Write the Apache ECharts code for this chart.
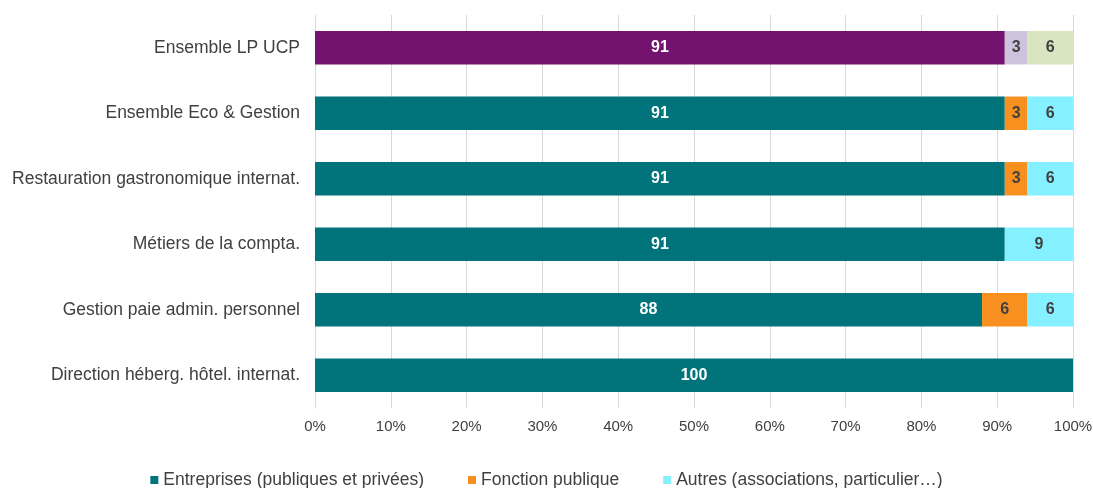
<!DOCTYPE html>
<html>
<head>
<meta charset="utf-8">
<script src="https://cdn.jsdelivr.net/npm/echarts@6/dist/echarts.min.js"></script>
<style>
  html, body { margin: 0; padding: 0; background: #fff; }
  #chart { width: 1093px; height: 488px; }
</style>
</head>
<body>
<div id="chart"></div>
<script>
// categories, top to bottom
const categories = [
    'Ensemble LP UCP',
    'Ensemble Eco & Gestion',
    'Restauration gastronomique internat.',
    'Métiers de la compta.',
    'Gestion paie admin. personnel',
    'Direction héberg. hôtel. internat.'
]
const entreprises = [91, 91, 91, 91, 88, 100]
const fonctionPublique = [3, 3, 3, 0, 6, 0]
const autres = [6, 6, 6, 9, 6, 0]
const seriesNames = ['Entreprises (publiques et privées)', 'Fonction publique', 'Autres (associations, particulier…)']

const colors = ['#00737B', '#F7901E', '#85F0FF']
// first row (Ensemble LP UCP) uses its own palette
const firstRowColors = ['#74136F', '#CEC3DF', '#D9E4C1']
const labelColors = ['#ffffff', '#404040', '#404040']

function buildData(values, idx) {
    return values.map(function (v, i) {
        if (i === 0) {
            return { value: v, itemStyle: { color: firstRowColors[idx] } }
        }
        return v
    })
}

function makeSeries(name, values, idx) {
    return {
        name: name,
        type: 'bar',
        stack: 'total',
        barCategoryGap: '49%',
        data: buildData(values, idx),
        itemStyle: { color: colors[idx] },
        label: {
            show: true,
            position: 'inside',
            color: labelColors[idx],
            fontWeight: 'bold',
            fontSize: 16,
            fontFamily: 'Liberation Sans',
            formatter: function (p) { return p.value ? String(p.value) : '' }
        }
    }
}

let chart = echarts.init(document.getElementById('chart'))
chart.setOption({
    animation: false,
    textStyle: { fontFamily: 'Liberation Sans' },
    grid: { left: 315, right: 20, top: 15, bottom: 80, outerBoundsMode: 'none' },
    legend: {
        top: 471,
        left: 'center',
        padding: 0,
        itemWidth: 8,
        itemHeight: 8,
        itemGap: 44,
        icon: 'rect',
        textStyle: { fontSize: 17.5, color: '#404040', fontFamily: 'Liberation Sans' },
        data: seriesNames
    },
    xAxis: {
        type: 'value',
        min: 0,
        max: 100,
        interval: 10,
        axisLine: { show: false },
        axisTick: { show: false },
        splitLine: { lineStyle: { color: '#D9D9D9' } },
        axisLabel: {
            formatter: '{value}%',
            color: '#404040',
            fontSize: 15,
            margin: 11
        }
    },
    yAxis: {
        type: 'category',
        inverse: true,
        data: categories,
        axisLine: { lineStyle: { color: '#D9D9D9' } },
        axisTick: { show: false },
        axisLabel: { color: '#404040', fontSize: 17.5, margin: 15 }
    },
    series: [
        makeSeries(seriesNames[0], entreprises, 0),
        makeSeries(seriesNames[1], fonctionPublique, 1),
        makeSeries(seriesNames[2], autres, 2)
    ]
})
</script>
</body>
</html>
